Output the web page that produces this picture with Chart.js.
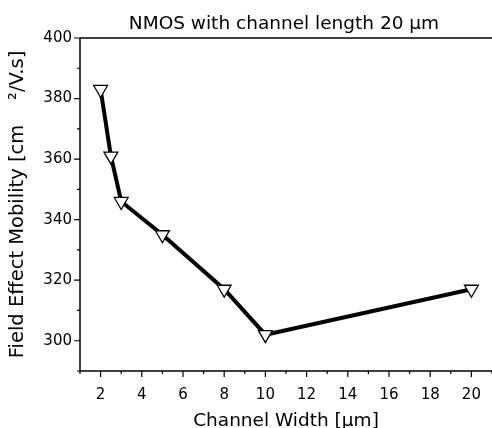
<!DOCTYPE html>
<html><head><meta charset="utf-8">
<script src="https://cdn.jsdelivr.net/npm/chart.js@4"></script>
<style>html,body{margin:0;padding:0;background:#fff}#wrap{width:492px;height:428px;position:relative}</style>
</head><body><div id="wrap"><canvas id="c"></canvas></div>
<script>
const chartTitle = 'NMOS with channel length 20 \u03bcm';
const xTitle = 'Channel Width [\u03bcm]';
const yTitle = 'Field Effect Mobility [cm    \u00b2/V.s]';
const channelWidths = [2, 2.5, 3, 5, 8, 10, 20];
const mobility = [383, 361, 346, 335, 317, 302, 317];
const xMajorTicks = [2, 4, 6, 8, 10, 12, 14, 16, 18, 20];
const xMinorTicks = [1, 3, 5, 7, 9, 11, 13, 15, 17, 19, 21];
const yMajorTicks = [300, 320, 340, 360, 380, 400];
const yMinorTicks = [290, 310, 330, 350, 370, 390];
const xRange = [1, 21];
const yRange = [290, 400];

const FONT = '"DejaVu Sans", "Liberation Sans", Arial, sans-serif';

const framePlugin = {
  id: 'frame',
  beforeDatasetsDraw(chart) {
    const {ctx, chartArea: a, scales: {x, y}} = chart;
    ctx.save();
    ctx.strokeStyle = '#000';
    ctx.lineWidth = 1.5;
    ctx.beginPath();
    ctx.moveTo(a.left, a.top); ctx.lineTo(a.right, a.top);
    ctx.moveTo(a.left, a.top); ctx.lineTo(a.left, a.bottom); ctx.lineTo(a.right, a.bottom);
    ctx.stroke();
    ctx.lineWidth = 1.2;
    ctx.beginPath();
    xMajorTicks.forEach(v => { const p = x.getPixelForValue(v); ctx.moveTo(p, a.bottom); ctx.lineTo(p, a.bottom + 6); });
    xMinorTicks.forEach(v => { const p = x.getPixelForValue(v); ctx.moveTo(p, a.bottom); ctx.lineTo(p, a.bottom + 3); });
    yMajorTicks.forEach(v => { const p = y.getPixelForValue(v); ctx.moveTo(a.left, p); ctx.lineTo(a.left - 6, p); });
    yMinorTicks.forEach(v => { const p = y.getPixelForValue(v); ctx.moveTo(a.left, p); ctx.lineTo(a.left - 3, p); });
    ctx.stroke();
    ctx.fillStyle = '#000';
    ctx.font = '18.5px ' + FONT;
    ctx.textAlign = 'center';
    ctx.textBaseline = 'alphabetic';
    ctx.fillText(chartTitle, (a.left + a.right) / 2 - 2, 28.5);
    ctx.restore();
  }
};

new Chart(document.getElementById('c'), {
  type: 'scatter',
  data: {
    datasets: [{
      data: channelWidths.map((w, i) => ({x: w, y: mobility[i]})),
      showLine: true,
      borderColor: '#000',
      borderWidth: 4,
      pointStyle: 'triangle',
      rotation: 180,
      pointRadius: 8,
      pointBackgroundColor: '#fff',
      pointBorderColor: '#000',
      pointBorderWidth: 1.3
    }]
  },
  options: {
    responsive: true,
    maintainAspectRatio: false,
    animation: false,
    layout: {autoPadding: false, padding: {top: 38, right: 0, left: 0, bottom: 0}},
    plugins: {legend: {display: false}, tooltip: {enabled: false}},
    scales: {
      x: {
        type: 'linear', min: xRange[0], max: xRange[1],
        afterBuildTicks: s => { s.ticks = xMajorTicks.map(v => ({value: v})); },
        afterFit: s => { s.height = 57; s.paddingLeft = 0; s.paddingRight = 0; },
        grid: {display: false, drawTicks: false},
        border: {display: false},
        ticks: {color: '#000', font: {size: 15, family: FONT}, padding: 15, maxRotation: 0, autoSkip: false},
        title: {display: true, text: xTitle, color: '#000', font: {size: 18.5, family: FONT}, padding: {top: 0, bottom: -4}}
      },
      y: {
        type: 'linear', min: yRange[0], max: yRange[1],
        afterBuildTicks: s => { s.ticks = yMajorTicks.map(v => ({value: v})); },
        afterFit: s => { s.width = 80; s.paddingTop = 0; s.paddingBottom = 0; },
        grid: {display: false, drawTicks: false},
        border: {display: false},
        ticks: {color: '#000', font: {size: 15, family: FONT}, padding: 8, autoSkip: false},
        title: {display: true, text: yTitle, color: '#000', font: {size: 19.5, family: FONT}, padding: {top: 6, bottom: 0}}
      }
    }
  },
  plugins: [framePlugin]
});
</script>
</body></html>
